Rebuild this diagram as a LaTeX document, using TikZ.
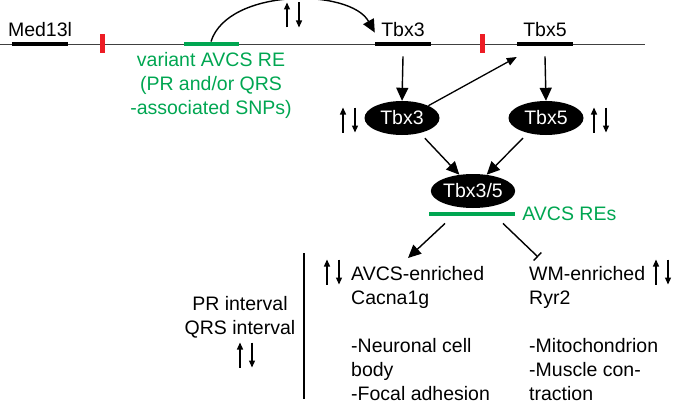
\documentclass[tikz,border=0pt]{standalone}
\usepackage{fontspec}
\setmainfont{Liberation Sans}
\usetikzlibrary{arrows.meta, positioning, shapes.geometric}
\definecolor{regreen}{RGB}{0,166,81}
\definecolor{snpred}{RGB}{237,28,36}

\begin{document}
\begin{tikzpicture}[x=1pt, y=-1pt,
every node/.style={font=\fontsize{19.5}{24}\selectfont, inner sep=0pt},
gene/.style={rectangle, fill=black, minimum width=56pt, minimum height=4.5pt},
snpmark/.style={rectangle, fill=snpred, minimum width=5pt, minimum height=19pt},
elem/.style={rectangle, fill=regreen, minimum height=4.5pt},
prot/.style={ellipse, fill=black, text=white, minimum width=75pt, minimum height=34pt},
arr/.style={-{Triangle[length=13pt,width=12pt]}, line width=1.4pt},
updn/.pic={
  \draw[line width=1.3pt, -{Triangle[length=7pt,width=6pt]}] (-6,12.5) -- (-6,-12.5);
  \draw[line width=1.3pt, -{Triangle[length=7pt,width=6pt]}] (6,-12.5) -- (6,12.5);
}]

  \useasboundingbox (0,0) rectangle (677,404);

  \coordinate (chl) at (0,44);
  \coordinate (chr) at (645,44);
  \draw[line width=0.8pt, black!75] (chl) -- (chr);

  \node[gene] (med) at (40,44) {};
  \node[gene] (g3) at (403,44) {};
  \node[gene] (g5) at (545,44) {};
  \node[snpmark] (snp1) at (102,44) {};
  \node[snpmark] (snp2) at (482,44) {};
  \node[elem, minimum width=55pt] (vre) at (211,44) {};

  \node (medlbl) [above=5pt of med] {Med13l};
  \node (g3lbl) [above=5pt of g3] {Tbx3};
  \node (g5lbl) [above=5pt of g5] {Tbx5};
  \node (vrelbl) [below=6pt of vre, text=regreen, align=center]
    {variant AVCS RE\\(PR and/or QRS\\-associated SNPs)};

  \node[prot] (p3) at (402,118) {Tbx3};
  \node[prot] (p5) at (546,118) {Tbx5};
  \node[prot] (p35) at (473,191) {Tbx3/5};

  \node[elem, minimum width=86pt] (re) at (472,214) {};
  \node (relbl) [right=7pt of re, text=regreen] {AVCS REs};

  \node[align=left, anchor=north west] (avcs) at (351,266)
    {AVCS-enriched\\Cacna1g\\[24pt]-Neuronal cell\\body\\-Focal adhesion};
  \node[align=left, anchor=north west] (wm) at (529,266)
    {WM-enriched\\Ryr2\\[24pt]-Mitochondrion\\-Muscle con-\\traction};
  \node[align=center, anchor=north] (intv) at (240,296) {PR interval\\QRS interval};

  \coordinate (vt) at (304,253);
  \coordinate (vb) at (304,399);
  \draw[line width=1.4pt] (vt) -- (vb);

  \draw[arr] (vre.north) .. controls (228,-12) and (350,-12) .. ([yshift=9pt]g3.north west);
  \draw[arr] ([yshift=-10pt]g3.south) -- (p3.north);
  \draw[arr] ([yshift=-10pt]g5.south) -- (p5.north);
  \draw[line width=1.3pt, -{Triangle[length=10pt,width=8pt]}] (p3.25) -- ([yshift=-13pt]g5.west);
  \draw[arr, shorten <=7pt] (p3.-40) -- (p35.130);
  \draw[arr, shorten <=7pt] (p5.-140) -- (p35.50);
  \draw[arr] ([xshift=-27pt,yshift=-7pt]re.south) -- ([xshift=57pt,yshift=8pt]avcs.north west);
  \draw[line width=1.4pt, -{Bar[width=11pt]}] ([xshift=31pt,yshift=-7pt]re.south) -- ([xshift=9pt,yshift=9pt]wm.north west);

  \pic at (293,15) {updn};
  \pic at (349,120) {updn};
  \pic at (600,120) {updn};
  \pic at (333,272) {updn};
  \pic at (662,272) {updn};
  \pic at (246,355) {updn};

\end{tikzpicture}
\end{document}
